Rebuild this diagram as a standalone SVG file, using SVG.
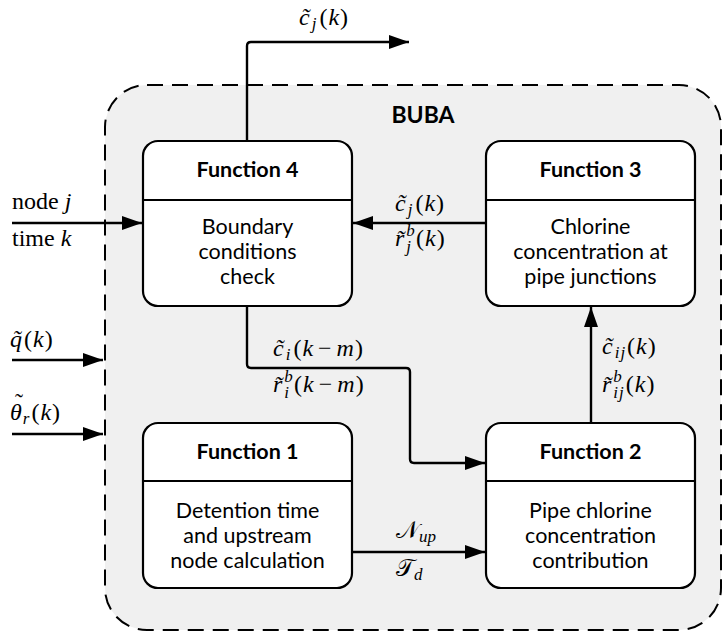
<svg xmlns="http://www.w3.org/2000/svg" width="724" height="640" viewBox="0 0 724 640">
  <defs>
    <marker id="arrow" markerUnits="userSpaceOnUse" markerWidth="22" markerHeight="14" refX="20" refY="7" orient="auto">
      <path d="M0,0 L20,7 L0,14 Z" fill="#000"/>
    </marker>
    <style>
      .box { fill: #fff; stroke: #000; stroke-width: 2.2; }
      .div { stroke: #000; stroke-width: 2; }
      .title { font-family: Lato, "Open Sans", sans-serif; font-weight: bold; font-size: 21.5px; text-anchor: middle; fill: #000; }
      .body { font-family: Lato, "Open Sans", sans-serif; font-size: 21.5px; text-anchor: middle; fill: #000; }
      .conn { fill: none; stroke: #000; stroke-width: 2.4; stroke-linejoin: round; }
      .math { font-family: "Liberation Serif", "DejaVu Serif", serif; font-size: 24px; fill: #000; }
      .f { letter-spacing: 1px; }
      .acc { font-family: "Liberation Serif", "DejaVu Serif", serif; font-size: 24px; fill: #000; text-anchor: middle; }
      .it { font-style: italic; }
      .sub { font-size: 17px; font-style: italic; }
    </style>
  </defs>

  <rect width="724" height="640" fill="#fff"/>

  <!-- BUBA container -->
  <g id="buba">
    <rect x="105" y="85" width="616" height="545" rx="42" ry="42" fill="#f0f0f0" stroke="#000" stroke-width="2" stroke-dasharray="16 9"/>
    <text x="423" y="123" font-family="Lato, 'Open Sans', sans-serif" font-weight="bold" font-size="23" text-anchor="middle">BUBA</text>
  </g>

  <!-- Connectors -->
  <g id="connectors">
    <path class="conn" d="M247,141 V46 Q247,42 251,42 H409" marker-end="url(#arrow)"/>
    <path class="conn" d="M12,223 H142" marker-end="url(#arrow)"/>
    <path class="conn" d="M12,360 H103" marker-end="url(#arrow)"/>
    <path class="conn" d="M12,434 H103" marker-end="url(#arrow)"/>
    <path class="conn" d="M486,223 H353" marker-end="url(#arrow)"/>
    <path class="conn" d="M247,306 V364 Q247,368 251,368 H406 Q410,368 410,372 V459 Q410,463 414,463 H485" marker-end="url(#arrow)"/>
    <path class="conn" d="M591,423 V307" marker-end="url(#arrow)"/>
    <path class="conn" d="M352,552 H485" marker-end="url(#arrow)"/>
  </g>

  <!-- Function 4 -->
  <g id="function4">
    <rect class="box" x="143" y="141" width="209" height="165" rx="15" ry="15"/>
    <line class="div" x1="143" y1="200" x2="352" y2="200"/>
    <text class="title" x="247.5" y="177">Function 4</text>
    <text class="body" x="247.5" y="234">Boundary</text>
    <text class="body" x="247.5" y="259">conditions</text>
    <text class="body" x="247.5" y="284">check</text>
  </g>

  <!-- Function 3 -->
  <g id="function3">
    <rect class="box" x="486" y="141" width="209" height="165" rx="15" ry="15"/>
    <line class="div" x1="486" y1="200" x2="695" y2="200"/>
    <text class="title" x="590.5" y="177">Function 3</text>
    <text class="body" x="590.5" y="234">Chlorine</text>
    <text class="body" x="590.5" y="259">concentration at</text>
    <text class="body" x="590.5" y="284">pipe junctions</text>
  </g>

  <!-- Function 1 -->
  <g id="function1">
    <rect class="box" x="143" y="423" width="209" height="165" rx="15" ry="15"/>
    <line class="div" x1="143" y1="481" x2="352" y2="481"/>
    <text class="title" x="247.5" y="459">Function 1</text>
    <text class="body" x="247.5" y="518">Detention time</text>
    <text class="body" x="247.5" y="543">and upstream</text>
    <text class="body" x="247.5" y="568">node calculation</text>
  </g>

  <!-- Function 2 -->
  <g id="function2">
    <rect class="box" x="486" y="423" width="209" height="165" rx="15" ry="15"/>
    <line class="div" x1="486" y1="481" x2="695" y2="481"/>
    <text class="title" x="590.5" y="459">Function 2</text>
    <text class="body" x="590.5" y="518">Pipe chlorine</text>
    <text class="body" x="590.5" y="543">concentration</text>
    <text class="body" x="590.5" y="568">contribution</text>
  </g>

  <!-- Signal labels; tildes are combining marks, except over theta -->
  <g id="labels">
    <text class="math f" x="299" y="25"><tspan class="it">c&#x303;</tspan><tspan class="sub" dy="4" dx="1">j</tspan><tspan dy="-4" dx="2">(</tspan><tspan class="it">k</tspan>)</text>

    <text class="math" x="12" y="209">node <tspan class="it">j</tspan></text>
    <text class="math" x="12" y="246">time <tspan class="it">k</tspan></text>

    <text class="math f" x="10" y="347"><tspan class="it">q&#x303;</tspan><tspan dx="1">(</tspan><tspan class="it">k</tspan>)</text>
    <text class="math f" x="10" y="420"><tspan class="it">θ</tspan><tspan class="sub" dy="4">r</tspan><tspan dy="-4" dx="1">(</tspan><tspan class="it">k</tspan>)</text>
    <text class="acc" x="19" y="410">˜</text>

    <text class="math f" x="395" y="211"><tspan class="it">c&#x303;</tspan><tspan class="sub" dy="4" dx="1">j</tspan><tspan dy="-4" dx="2">(</tspan><tspan class="it">k</tspan>)</text>
    <text class="math f" x="395" y="246"><tspan class="it">r&#x303;</tspan><tspan class="sub" dy="-10" dx="1">b</tspan><tspan class="sub" dx="-9.5" dy="16">j</tspan><tspan dy="-6" dx="4">(</tspan><tspan class="it">k</tspan>)</text>

    <text class="math f" x="273" y="356"><tspan class="it">c&#x303;</tspan><tspan class="sub" dy="4" dx="1">i</tspan><tspan dy="-4" dx="2">(</tspan><tspan class="it">k</tspan><tspan dx="4">−</tspan><tspan class="it" dx="4">m</tspan>)</text>
    <text class="math f" x="273" y="392"><tspan class="it">r&#x303;</tspan><tspan class="sub" dy="-10" dx="1">b</tspan><tspan class="sub" dx="-9.5" dy="16">i</tspan><tspan dy="-6" dx="4">(</tspan><tspan class="it">k</tspan><tspan dx="4">−</tspan><tspan class="it" dx="4">m</tspan>)</text>

    <text class="math f" x="602" y="354"><tspan class="it">c&#x303;</tspan><tspan class="sub" dy="4" dx="1">ij</tspan><tspan dy="-4" dx="1">(</tspan><tspan class="it">k</tspan>)</text>
    <text class="math f" x="602" y="392"><tspan class="it">r&#x303;</tspan><tspan class="sub" dy="-10" dx="1">b</tspan><tspan class="sub" dx="-9.5" dy="16">ij</tspan><tspan dy="-6" dx="1">(</tspan><tspan class="it">k</tspan>)</text>

    <text class="math" x="396" y="538">𝒩<tspan class="sub" dy="4">up</tspan></text>
    <text class="math" x="396" y="576">𝒯<tspan class="sub" dy="4">d</tspan></text>
  </g>
</svg>
